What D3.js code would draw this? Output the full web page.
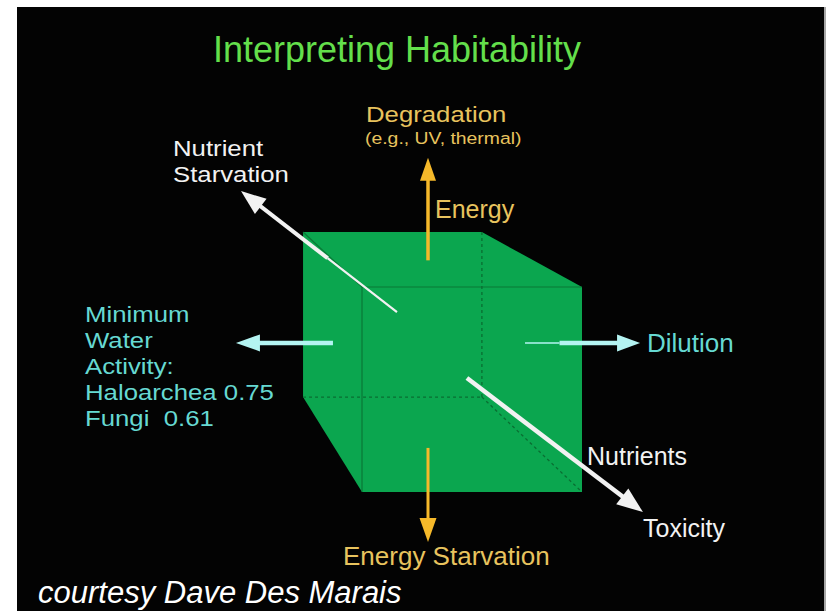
<!DOCTYPE html>
<html>
<head>
<meta charset="utf-8">
<script src="https://cdn.jsdelivr.net/npm/d3@7"></script>
<style>
  body { margin: 0; background: #fff; }
  text { font-family: 'Liberation Sans', Arial, Helvetica, sans-serif; }
</style>
</head>
<body>
<div id="chart"></div>
<script>
// cube corners in "front face units": front face spans 0..1 on both axes
const frontFace = [[0, 0], [1, 0], [1, 1], [0, 1]]
const backFace = [[-0.268, -0.268], [0.545, -0.268], [0.545, 0.537], [-0.268, 0.537]]

// arrows: [from, to] in the same units
const energyArrow = [[0.30, -0.13], [0.30, -0.63]]
const starvationArrow = [[0.30, 0.785], [0.30, 1.244]]
const waterArrow = [[-0.132, 0.273], [-0.573, 0.273]]
const dilutionArrow = [[0.741, 0.273], [1.264, 0.273]]
const nutrientStarvArrow = [[0.159, 0.122], [-0.55, -0.468]]
const toxicityArrow = [[0.477, 0.444], [1.277, 1.098]]

const titleText = 'Interpreting Habitability'
const degradationLabels = ['Degradation', '(e.g., UV, thermal)']
const nutrientStarvLabels = ['Nutrient', 'Starvation']
const waterLabels = ['Minimum', 'Water', 'Activity:', 'Haloarchea 0.75', 'Fungi  0.61']
const creditText = 'courtesy Dave Des Marais'

const W = 829, H = 611

const x = d3.scaleLinear().domain([0, 1]).range([362, 582])
const y = d3.scaleLinear().domain([0, 1]).range([287, 492])

const green = '#0ba64f',
      edge = '#0a6e32',
      gold = '#f6b92a',
      goldText = '#e8c35e',
      cyan = '#b4f4f2',
      cyanText = '#66d9d2',
      white = '#f2f2f2'

const svg = d3.select('#chart').append('svg')
  .attr('width', W)
  .attr('height', H)

svg.append('rect').attr('width', W).attr('height', H).attr('fill', '#fff')
svg.append('rect')
  .attr('x', 17).attr('y', 7)
  .attr('width', 807).attr('height', H - 7)
  .attr('fill', '#030303')
svg.append('line')
  .attr('x1', 825).attr('x2', 825).attr('y1', 7).attr('y2', H)
  .attr('stroke', '#8a8a8a').attr('stroke-width', 1.5)

const pt = p => [x(p[0]), y(p[1])]

// cube silhouette: back top-left, back top-right, front top-right, front bottom-right, front bottom-left, back bottom-left
const outline = [backFace[0], backFace[1], frontFace[1], frontFace[2], frontFace[3], backFace[3]].map(pt)
const cube = svg.append('g').classed('cube', true)
cube.append('polygon')
  .attr('points', outline.map(p => p.join(',')).join(' '))
  .attr('fill', green)

// hidden edges (dashed)
const hidden = [
  [backFace[1], backFace[2]],
  [backFace[3], backFace[2]],
  [backFace[2], frontFace[2]]
]
cube.selectAll('line.hidden')
  .data(hidden).enter()
  .append('line').classed('hidden', true)
  .attr('x1', d => x(d[0][0])).attr('y1', d => y(d[0][1]))
  .attr('x2', d => x(d[1][0])).attr('y2', d => y(d[1][1]))
  .attr('stroke', edge)
  .attr('stroke-width', 1.3)
  .attr('stroke-dasharray', '3,3')

// visible inner edges
const visible = [
  [frontFace[0], frontFace[1]],
  [frontFace[0], frontFace[3]],
  [backFace[0], frontFace[0]]
]
cube.selectAll('line.visible')
  .data(visible).enter()
  .append('line').classed('visible', true)
  .attr('x1', d => x(d[0][0])).attr('y1', d => y(d[0][1]))
  .attr('x2', d => x(d[1][0])).attr('y2', d => y(d[1][1]))
  .attr('stroke', edge)
  .attr('stroke-width', 1.2)
  .attr('opacity', 0.8)

const arrows = svg.append('g').classed('arrows', true)

// line + triangular head; thinUntil = fraction of the shaft drawn thin
const drawArrow = (a, color, w, headLen, headW, thinUntil, thinW) => {
  const p0 = pt(a[0]), p1 = pt(a[1])
  const dx = p1[0] - p0[0], dy = p1[1] - p0[1]
  const len = Math.sqrt(dx * dx + dy * dy)
  const ux = dx / len, uy = dy / len
  const base = [p1[0] - ux * headLen, p1[1] - uy * headLen]
  const shaftEnd = [p1[0] - ux * headLen * 0.7, p1[1] - uy * headLen * 0.7]
  let start = p0
  if (thinUntil) {
    const mid = [p0[0] + dx * thinUntil, p0[1] + dy * thinUntil]
    arrows.append('line')
      .attr('x1', p0[0]).attr('y1', p0[1])
      .attr('x2', mid[0]).attr('y2', mid[1])
      .attr('stroke', color).attr('stroke-width', thinW)
    start = mid
  }
  arrows.append('line')
    .attr('x1', start[0]).attr('y1', start[1])
    .attr('x2', shaftEnd[0]).attr('y2', shaftEnd[1])
    .attr('stroke', color).attr('stroke-width', w)
  const head = [
    p1,
    [base[0] - uy * headW / 2, base[1] + ux * headW / 2],
    [base[0] + uy * headW / 2, base[1] - ux * headW / 2]
  ]
  arrows.append('polygon')
    .attr('points', head.map(p => p.join(',')).join(' '))
    .attr('fill', color)
}

drawArrow(energyArrow, gold, 3.5, 23, 16)
drawArrow(starvationArrow, gold, 3, 24, 17)
drawArrow(waterArrow, cyan, 4.5, 24, 17)
drawArrow(dilutionArrow, cyan, 4.5, 23, 17, 0.3, 1.6)
drawArrow(nutrientStarvArrow, white, 4, 25, 19, 0.445, 2.2)
drawArrow(toxicityArrow, white, 4.5, 26, 20)

const labels = svg.append('g').classed('labels', true)

// the slide is slightly stretched sideways, so stacked labels get a small x scale
const label = (px, py, size, color, txt, sx) => labels.append('text')
  .attr('transform', 'translate(' + px + ', ' + py + ') scale(' + (sx || 1) + ', 1)')
  .attr('font-size', size)
  .attr('fill', color)
  .attr('xml:space', 'preserve')
  .style('white-space', 'pre')
  .text(txt)

label(397, 62, 36, '#63df4b', titleText).attr('text-anchor', 'middle')

label(366, 122, 23, goldText, degradationLabels[0], 1.12)
label(365, 144, 17, goldText, degradationLabels[1], 1.14)

label(435, 218, 25, goldText, 'Energy')

nutrientStarvLabels.forEach((d, i) => label(173, 156 + i * 26, 23, white, d, 1.12))

waterLabels.forEach((d, i) => label(85, 322 + i * 26, 23, cyanText, d, 1.12))

label(647, 352, 26, cyanText, 'Dilution')
label(587, 465, 25, white, 'Nutrients')
label(643, 537, 25, white, 'Toxicity')
label(343, 565, 26, goldText, 'Energy Starvation')

label(38, 603, 31, '#fff', creditText).attr('font-style', 'italic')
</script>
</body>
</html>
